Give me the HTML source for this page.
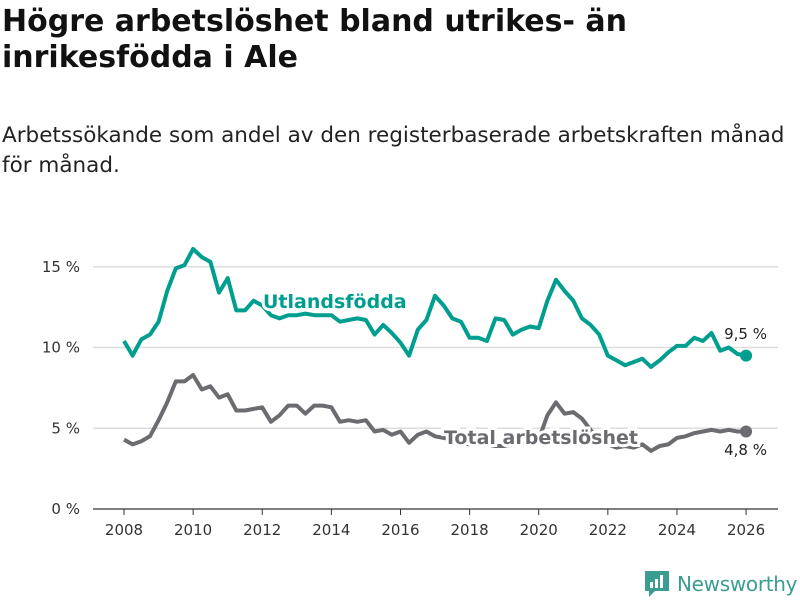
<!DOCTYPE html>
<html><head><meta charset="utf-8">
<style>
body{margin:0;width:800px;height:600px;background:#fff;font-family:"Liberation Sans","DejaVu Sans",sans-serif;overflow:hidden;position:relative}
h1{position:absolute;left:2px;top:4px;margin:0;font-size:30px;line-height:36px;font-weight:bold;color:#111;width:790px;font-family:"DejaVu Sans",sans-serif;letter-spacing:0}
.sub{position:absolute;left:2px;top:121px;font-size:21.5px;line-height:30px;color:#222;width:798px;font-family:"DejaVu Sans",sans-serif;letter-spacing:0;white-space:nowrap}
svg{position:absolute;left:0;top:0}
</style></head><body>
<h1>Högre arbetslöshet bland utrikes- än inrikesfödda i Ale</h1>
<div class="sub">Arbetssökande som andel av den registerbaserade arbetskraften månad<br>för månad.</div>
<svg id="c" width="800" height="600"></svg>
<script>
const years=[2008,2008.25,2008.5,2008.75,2009,2009.25,2009.5,2009.75,2010,2010.25,2010.5,2010.75,2011,2011.25,2011.5,2011.75,2012,2012.25,2012.5,2012.75,2013,2013.25,2013.5,2013.75,2014,2014.25,2014.5,2014.75,2015,2015.25,2015.5,2015.75,2016,2016.25,2016.5,2016.75,2017,2017.25,2017.5,2017.75,2018,2018.25,2018.5,2018.75,2019,2019.25,2019.5,2019.75,2020,2020.25,2020.5,2020.75,2021,2021.25,2021.5,2021.75,2022,2022.25,2022.5,2022.75,2023,2023.25,2023.5,2023.75,2024,2024.25,2024.5,2024.75,2025,2025.25,2025.5,2025.75,2026];
const foreign=[10.4,9.5,10.5,10.8,11.6,13.5,14.9,15.1,16.1,15.6,15.3,13.4,14.3,12.3,12.3,12.9,12.6,12.0,11.8,12.0,12.0,12.1,12.0,12.0,12.0,11.6,11.7,11.8,11.7,10.8,11.4,10.9,10.3,9.5,11.1,11.7,13.2,12.6,11.8,11.6,10.6,10.6,10.4,11.8,11.7,10.8,11.1,11.3,11.2,12.9,14.2,13.5,12.9,11.8,11.4,10.8,9.5,9.2,8.9,9.1,9.3,8.8,9.2,9.7,10.1,10.1,10.6,10.4,10.9,9.8,10.0,9.6,9.5];
const total=[4.3,4.0,4.2,4.5,5.5,6.6,7.9,7.9,8.3,7.4,7.6,6.9,7.1,6.1,6.1,6.2,6.3,5.4,5.8,6.4,6.4,5.9,6.4,6.4,6.3,5.4,5.5,5.4,5.5,4.8,4.9,4.6,4.8,4.1,4.6,4.8,4.5,4.4,4.3,4.1,4.0,4.0,4.0,3.9,3.9,4.0,4.0,4.1,4.3,5.8,6.6,5.9,6.0,5.6,4.9,4.3,4.0,3.8,3.9,3.8,4.0,3.6,3.9,4.0,4.4,4.5,4.7,4.8,4.9,4.8,4.9,4.8,4.8];
const yTicks=[0,5,10,15];
const xTicks=[2008,2010,2012,2014,2016,2018,2020,2022,2024,2026];
const X=v=>124+(v-2008)*34.56;
const Y=v=>509-v*16.15;
const svg=document.getElementById('c');const NS='http://www.w3.org/2000/svg';
function mk(t,a,txt){const e=document.createElementNS(NS,t);for(const k in a)e.setAttribute(k,a[k]);if(txt!=null)e.textContent=txt;svg.appendChild(e);return e;}
yTicks.forEach(v=>{
 const g=mk('line',{x1:93,x2:778,y1:Y(v),y2:Y(v),stroke:v===0?'#333':'#ddd','stroke-width':v===0?1.2:1.5});
 
 
 const t=mk('text',{x:80,y:Y(v)+5,'text-anchor':'end','font-size':15,fill:'#333','font-family':'DejaVu Sans, sans-serif'},v+' %');
 
 
});
xTicks.forEach(v=>{
 const l=mk('line',{x1:X(v),x2:X(v),y1:509,y2:515,stroke:'#333','stroke-width':1});
 
 
 const t=mk('text',{x:X(v),y:535,'text-anchor':'middle','font-size':15,fill:'#333','font-family':'DejaVu Sans, sans-serif'},String(v));
 
 
});
function line(arr,col,name){
 const d=arr.map((v,i)=>(i?'L':'M')+X(years[i]).toFixed(1)+','+Y(v).toFixed(1)).join('');
 const p=mk('path',{d:d,fill:'none',stroke:col,'stroke-width':4,'stroke-linejoin':'round'});
 
 
 const n=arr.length-1;
 const c=mk('circle',{cx:X(years[n]),cy:Y(arr[n]),r:6,fill:col});
 
 
}
line(foreign,'#009e8f','foreign-born');
line(total,'#6c6b70','total');
function lab(x,y,txt,col,name,size,bold,anchor){
 const t=mk('text',{x:x,y:y,'font-size':size,fill:col,'font-weight':bold?'bold':'normal','text-anchor':anchor||'start',stroke:'#fff','stroke-width':bold?6:4,'paint-order':'stroke','font-family':'DejaVu Sans, sans-serif'},txt);
 
 
}
lab(263,308,'Utlandsfödda','#009e8f','series-label-foreign',19,true);
lab(444,444,'Total arbetslöshet','#6c6b70','series-label-total',19,true);
lab(767,339,'9,5 %','#222','end-value-foreign',15,false,'end');
lab(767,455,'4,8 %','#222','end-value-total',15,false,'end');
</script>
<div style="position:absolute;left:645px;top:571px;display:flex;align-items:center">
<svg width="24" height="26" viewBox="0 0 24 26" style="position:static"><path d="M0 0H24V20H10L4 26V20H0Z" fill="#3a9d8f"/><rect x="5" y="11" width="3" height="6" fill="#fff"/><rect x="10" y="8" width="3" height="9" fill="#fff"/><rect x="15" y="4" width="3" height="13" fill="#fff"/></svg>
<span style="margin-left:8px;font-size:20px;color:#3a9d8f;font-family:'DejaVu Sans',sans-serif;letter-spacing:-0.3px">Newsworthy</span></div>
</body></html>
